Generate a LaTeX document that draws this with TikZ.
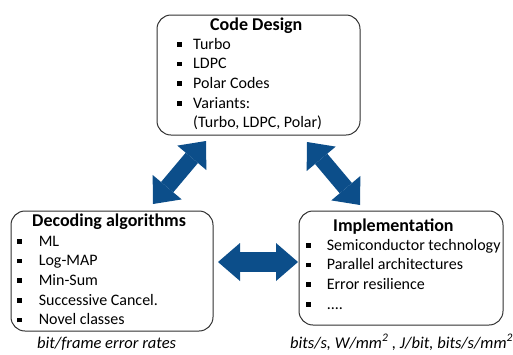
\documentclass[tikz,border=0pt]{standalone}
\usepackage{fontspec}
\setmainfont{Carlito}
\usepackage{xcolor}
\usepackage{tikz}
\usetikzlibrary{arrows.meta}
\definecolor{bigblue}{HTML}{0C4E8A}
\definecolor{boxgray}{HTML}{303030}
\newcommand{\blt}[1][16pt]{\makebox[#1][l]{\rule[2.5pt]{4.5pt}{4.5pt}}}

\begin{document}
\begin{tikzpicture}[x=1pt, y=-1pt,
    box/.style={draw=boxgray, line width=1pt, rounded corners=14pt, inner sep=0pt},
    boxtitle/.style={anchor=base west, inner sep=0pt, font=\fontsize{18}{22}\selectfont\bfseries},
    boxitems/.style={anchor=base west, inner sep=0pt, font=\fontsize{16}{19.7}\selectfont},
    boxnote/.style={anchor=base west, inner sep=0pt, font=\fontsize{16.5}{20}\selectfont\itshape},
    bigarrow/.style={draw=bigblue, line width=17pt,
      {Triangle[width=38pt,length=22pt,line width=0pt]}-{Triangle[width=38pt,length=22pt,line width=0pt]}}]
    \useasboundingbox (0,0) rectangle (513,354);
    % --- Code design ---
    \node[box, minimum width=203pt, minimum height=120pt] (code) at (258.5,75) {};
    \node[boxtitle] (codetitle) at (210,30) {Code Design};
    \node[boxitems] (codelist) at (177,49) {\begin{tabular}[t]{@{}l@{}}
      \blt Turbo\\ \blt LDPC\\ \blt Polar Codes\\ \blt Variants:\\
      \hspace{16pt}(Turbo, LDPC, Polar)\end{tabular}};
    % --- Decoding algorithms ---
    \node[box, minimum width=202pt, minimum height=120pt] (dec) at (112,271) {};
    \node[boxtitle] (dectitle) at (32,226) {Decoding algorithms};
    \node[boxitems] (declist) at (17,246) {\begin{tabular}[t]{@{}l@{}}
      \blt[18pt] ML\\ \blt[18pt] Log-MAP\\ \blt[18pt] Min-Sum\\
      \blt[18pt] Successive Cancel.\\ \blt[18pt] Novel classes\end{tabular}};
    \node[boxnote] (decnote) at (37,348) {bit/frame error rates};
    % --- Implementation ---
    \node[box, minimum width=204pt, minimum height=114pt] (impl) at (401,268) {};
    \node[boxtitle] (impltitle) at (333,231) {Implementation};
    \node[boxitems] (impllist) at (306,250) {\begin{tabular}[t]{@{}l@{}}
      \blt[17pt] Semiconductor technology\\ \blt[17pt] Parallel architectures\\
      \blt[17pt] Error resilience\\ \blt[17pt] ....\end{tabular}};
    \node[boxnote] (implnote) at (290,348)
      {bits/s, W/mm\textsuperscript{2} , J/bit, bits/s/mm\textsuperscript{2}};
    % Arrows between the boxes
    \coordinate (declow) at (153,204);
    \coordinate (codeleft) at (206,141);
    \coordinate (coderight) at (307,142);
    \coordinate (impllow) at (360,205);
    \coordinate (decright) at (218,262);
    \coordinate (implleft) at (298,262);
    \draw[bigarrow, line width=16pt] (declow) -- (codeleft);
    \draw[bigarrow, line width=16pt] (coderight) -- (impllow);
    \draw[bigarrow, line width=20pt] (decright) -- (implleft);
\end{tikzpicture}
\end{document}
